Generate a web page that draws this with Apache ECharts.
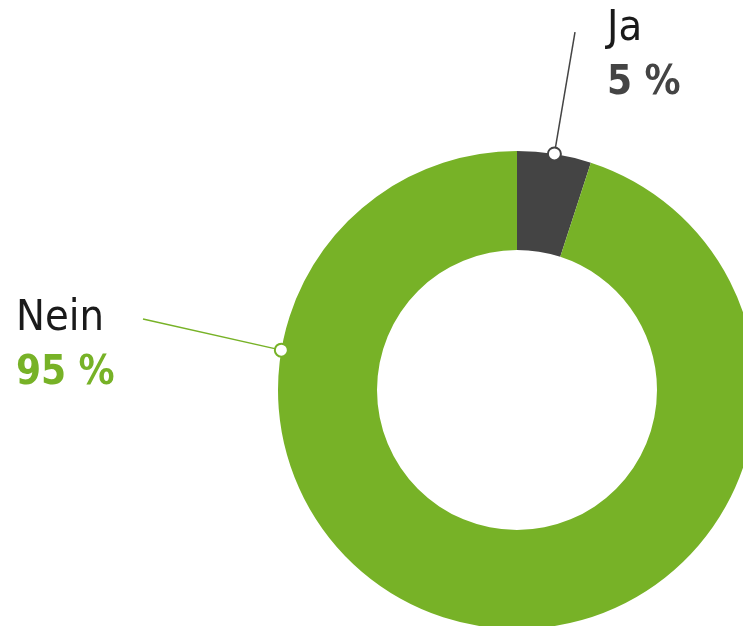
<!DOCTYPE html>
<html>
<head>
<meta charset="utf-8">
<script src="https://cdn.jsdelivr.net/npm/echarts@6/dist/echarts.min.js"></script>
<style>
  html, body { margin: 0; padding: 0; background: #fff; }
  #donut { width: 743px; height: 626px; }
</style>
</head>
<body>
<div id="donut"></div>
<script>
let categories = ['Ja', 'Nein'];
let values = [5, 95];
let colors = ['#444444', '#77b227'];
let valueColors = ['#444444', '#77b227'];

// pie geometry
let cx = 517, cy = 390, rOuter = 239, rInner = 140;

// where the leader lines touch the ring (degrees clockwise from top) and where they end
let anchorAngle = [values[0] / (values[0] + values[1]) * 360 / 2, 279.6];
let lineEnd = [[575, 32], [143, 319]];
let labelPos = [[607, 1], [16, 291]];

function ringPoint(deg) {
    let rad = deg * Math.PI / 180;
    return [cx + rOuter * Math.sin(rad), cy - rOuter * Math.cos(rad)];
}

let donutChart = echarts.init(document.getElementById('donut'));

let pieData = [];
for (var i = 0; i < categories.length; i++) {
    pieData.push({
        name: categories[i],
        value: values[i],
        itemStyle: { color: colors[i] },
        label: { rich: { v: { color: valueColors[i] } } },
        labelLine: { lineStyle: { color: colors[i] } }
    });
}

let markers = [];
for (var j = 0; j < categories.length; j++) {
    let p = ringPoint(anchorAngle[j]);
    markers.push({
        type: 'circle',
        shape: { cx: p[0], cy: p[1], r: 6.5 },
        style: { fill: '#fff', stroke: colors[j], lineWidth: 2 },
        z: 100
    });
}

var option = {
    animation: false,
    graphic: markers,
    series: [
        {
            type: 'pie',
            center: [cx, cy],
            radius: [rInner, rOuter],
            startAngle: 90,
            clockwise: true,
            avoidLabelOverlap: false,
            data: pieData,
            label: {
                show: true,
                position: 'outside',
                formatter: '{n|{b}}\n{v|{c} %}',
                rich: {
                    n: {
                        fontFamily: '"Liberation Sans Narrow", "DejaVu Sans Condensed", sans-serif',
                        fontSize: 43,
                        color: '#1a1a1a',
                        lineHeight: 55
                    },
                    v: {
                        fontFamily: '"Liberation Sans Narrow", "DejaVu Sans Condensed", sans-serif',
                        fontSize: 40,
                        fontWeight: 'bold',
                        lineHeight: 55
                    }
                }
            },
            labelLine: {
                show: true,
                lineStyle: { width: 1.5 }
            },
            labelLayout: function (params) {
                let k = params.dataIndex;
                return {
                    x: labelPos[k][0],
                    y: labelPos[k][1],
                    align: 'left',
                    verticalAlign: 'top',
                    labelLinePoints: [ringPoint(anchorAngle[k]), lineEnd[k]]
                };
            },
            emphasis: { disabled: true }
        }
    ]
};

option && donutChart.setOption(option, true);
</script>
</body>
</html>
